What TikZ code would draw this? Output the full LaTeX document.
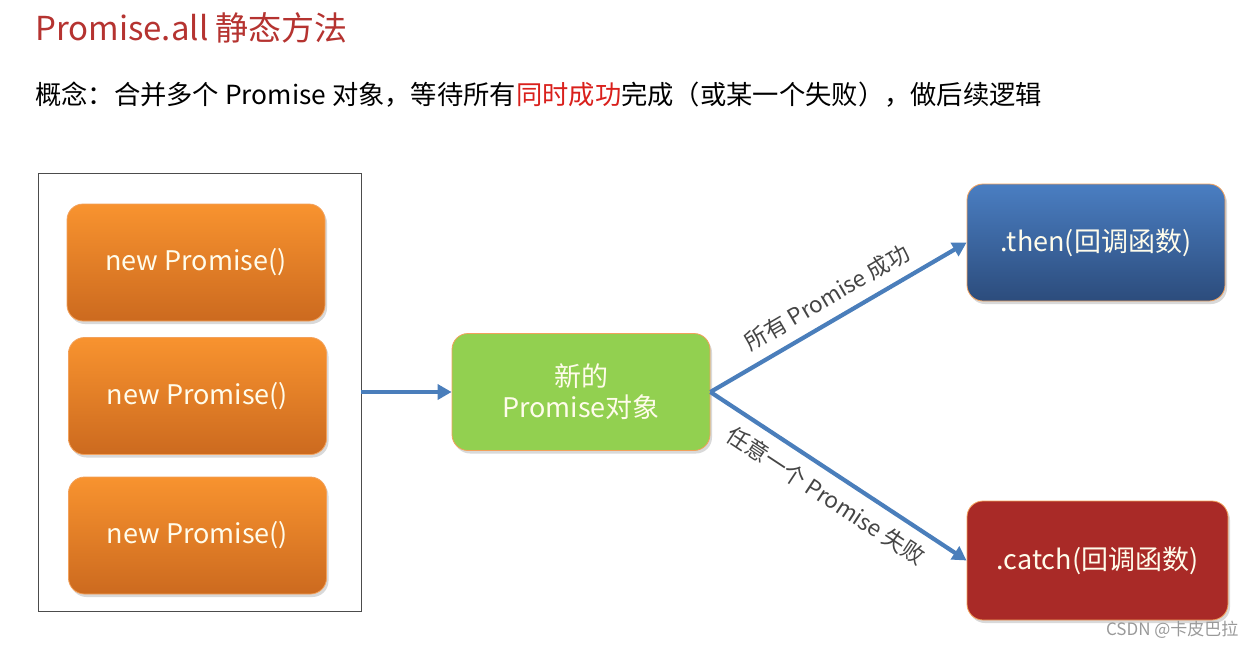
\documentclass[tikz,border=0pt]{standalone}
\usepackage{fontspec}
\setmainfont{Noto Sans CJK SC}
\usetikzlibrary{positioning, arrows.meta, shadows}

\definecolor{titlered}{HTML}{B53330}
\definecolor{hotred}{HTML}{D9201C}
\definecolor{orangetop}{HTML}{F8932F}
\definecolor{orangebot}{HTML}{CC6A1F}
\definecolor{bluetop}{HTML}{4A7EC2}
\definecolor{bluebot}{HTML}{2C4C7C}
\definecolor{greenfill}{HTML}{92D050}
\definecolor{catchred}{HTML}{A92A27}
\definecolor{boxline}{HTML}{F2A15C}
\definecolor{boxtext}{HTML}{FFFCEB}
\definecolor{arrowblue}{HTML}{4A7EBB}
\definecolor{labelgray}{HTML}{454545}

\begin{document}
\begin{tikzpicture}[x=1pt, y=-1pt]
		% Estilos de los bloques
		\tikzset{
			promise/.style={
					rectangle, rounded corners=16pt, draw=boxline, line width=0.8pt,
					minimum width=258pt, minimum height=117pt,
					text=boxtext, align=center,
					font=\fontsize{27}{31}\selectfont,
					drop shadow={shadow xshift=2pt, shadow yshift=-3pt, opacity=0.3}
				},
			flow/.style={
					draw=arrowblue, line width=4.2pt,
					-{Triangle[length=14pt, width=15pt]}
				},
			flow text/.style={
					font=\fontsize{22.5}{26}\selectfont, text=labelgray,
					midway, sloped
				}
		}
		\useasboundingbox (0,0) rectangle (1256,648);

		% Títulos
		\node[anchor=base west, inner sep=0pt, text=titlered, font=\fontsize{33}{38}\selectfont] (title) at (35,40) {Promise.all 静态方法};
		\node[anchor=base west, inner sep=0pt, font=\fontsize{26.3}{30}\selectfont] (concept) at (35,104)
			{概念：合并多个 Promise 对象，等待所有\textcolor{hotred}{同时成功}完成（或某一个失败），做后续逻辑};

		% Grupo de promesas
		\node[draw=black!70, line width=0.8pt, minimum width=323pt, minimum height=438pt, inner sep=0pt] (group) at (199.5,392) {};
		\node[promise, top color=orangetop, bottom color=orangebot] (p1) at (196,262.5) {new Promise()};
		\node[promise, top color=orangetop, bottom color=orangebot] (p2) at (197.5,396) {new Promise()};
		\node[promise, top color=orangetop, bottom color=orangebot] (p3) at (197.5,535.5) {new Promise()};

		% Resultado
		\node[promise, fill=greenfill] (all) at (581,392) {新的\\Promise对象};
		\node[promise, top color=bluetop, bottom color=bluebot] (then) at (1096,242.5) {.then(回调函数)};
		\node[promise, fill=catchred, minimum width=261pt, minimum height=119pt] (catch) at (1097.5,560.5) {.catch(回调函数)};

		% Flechas
		\draw[flow] (group) -- (all);
		\draw[flow] (all.east) -- (then.west) node[flow text, above=7pt] {所有 Promise 成功};
		\draw[flow] (all.east) -- (catch.west) node[flow text, below=7pt] {任意一个 Promise 失败};

		\node[anchor=east, text=black!40, font=\fontsize{17}{20}\selectfont] (mark) at (1242,630) {CSDN @卡皮巴拉};
	\end{tikzpicture}
\end{document}
